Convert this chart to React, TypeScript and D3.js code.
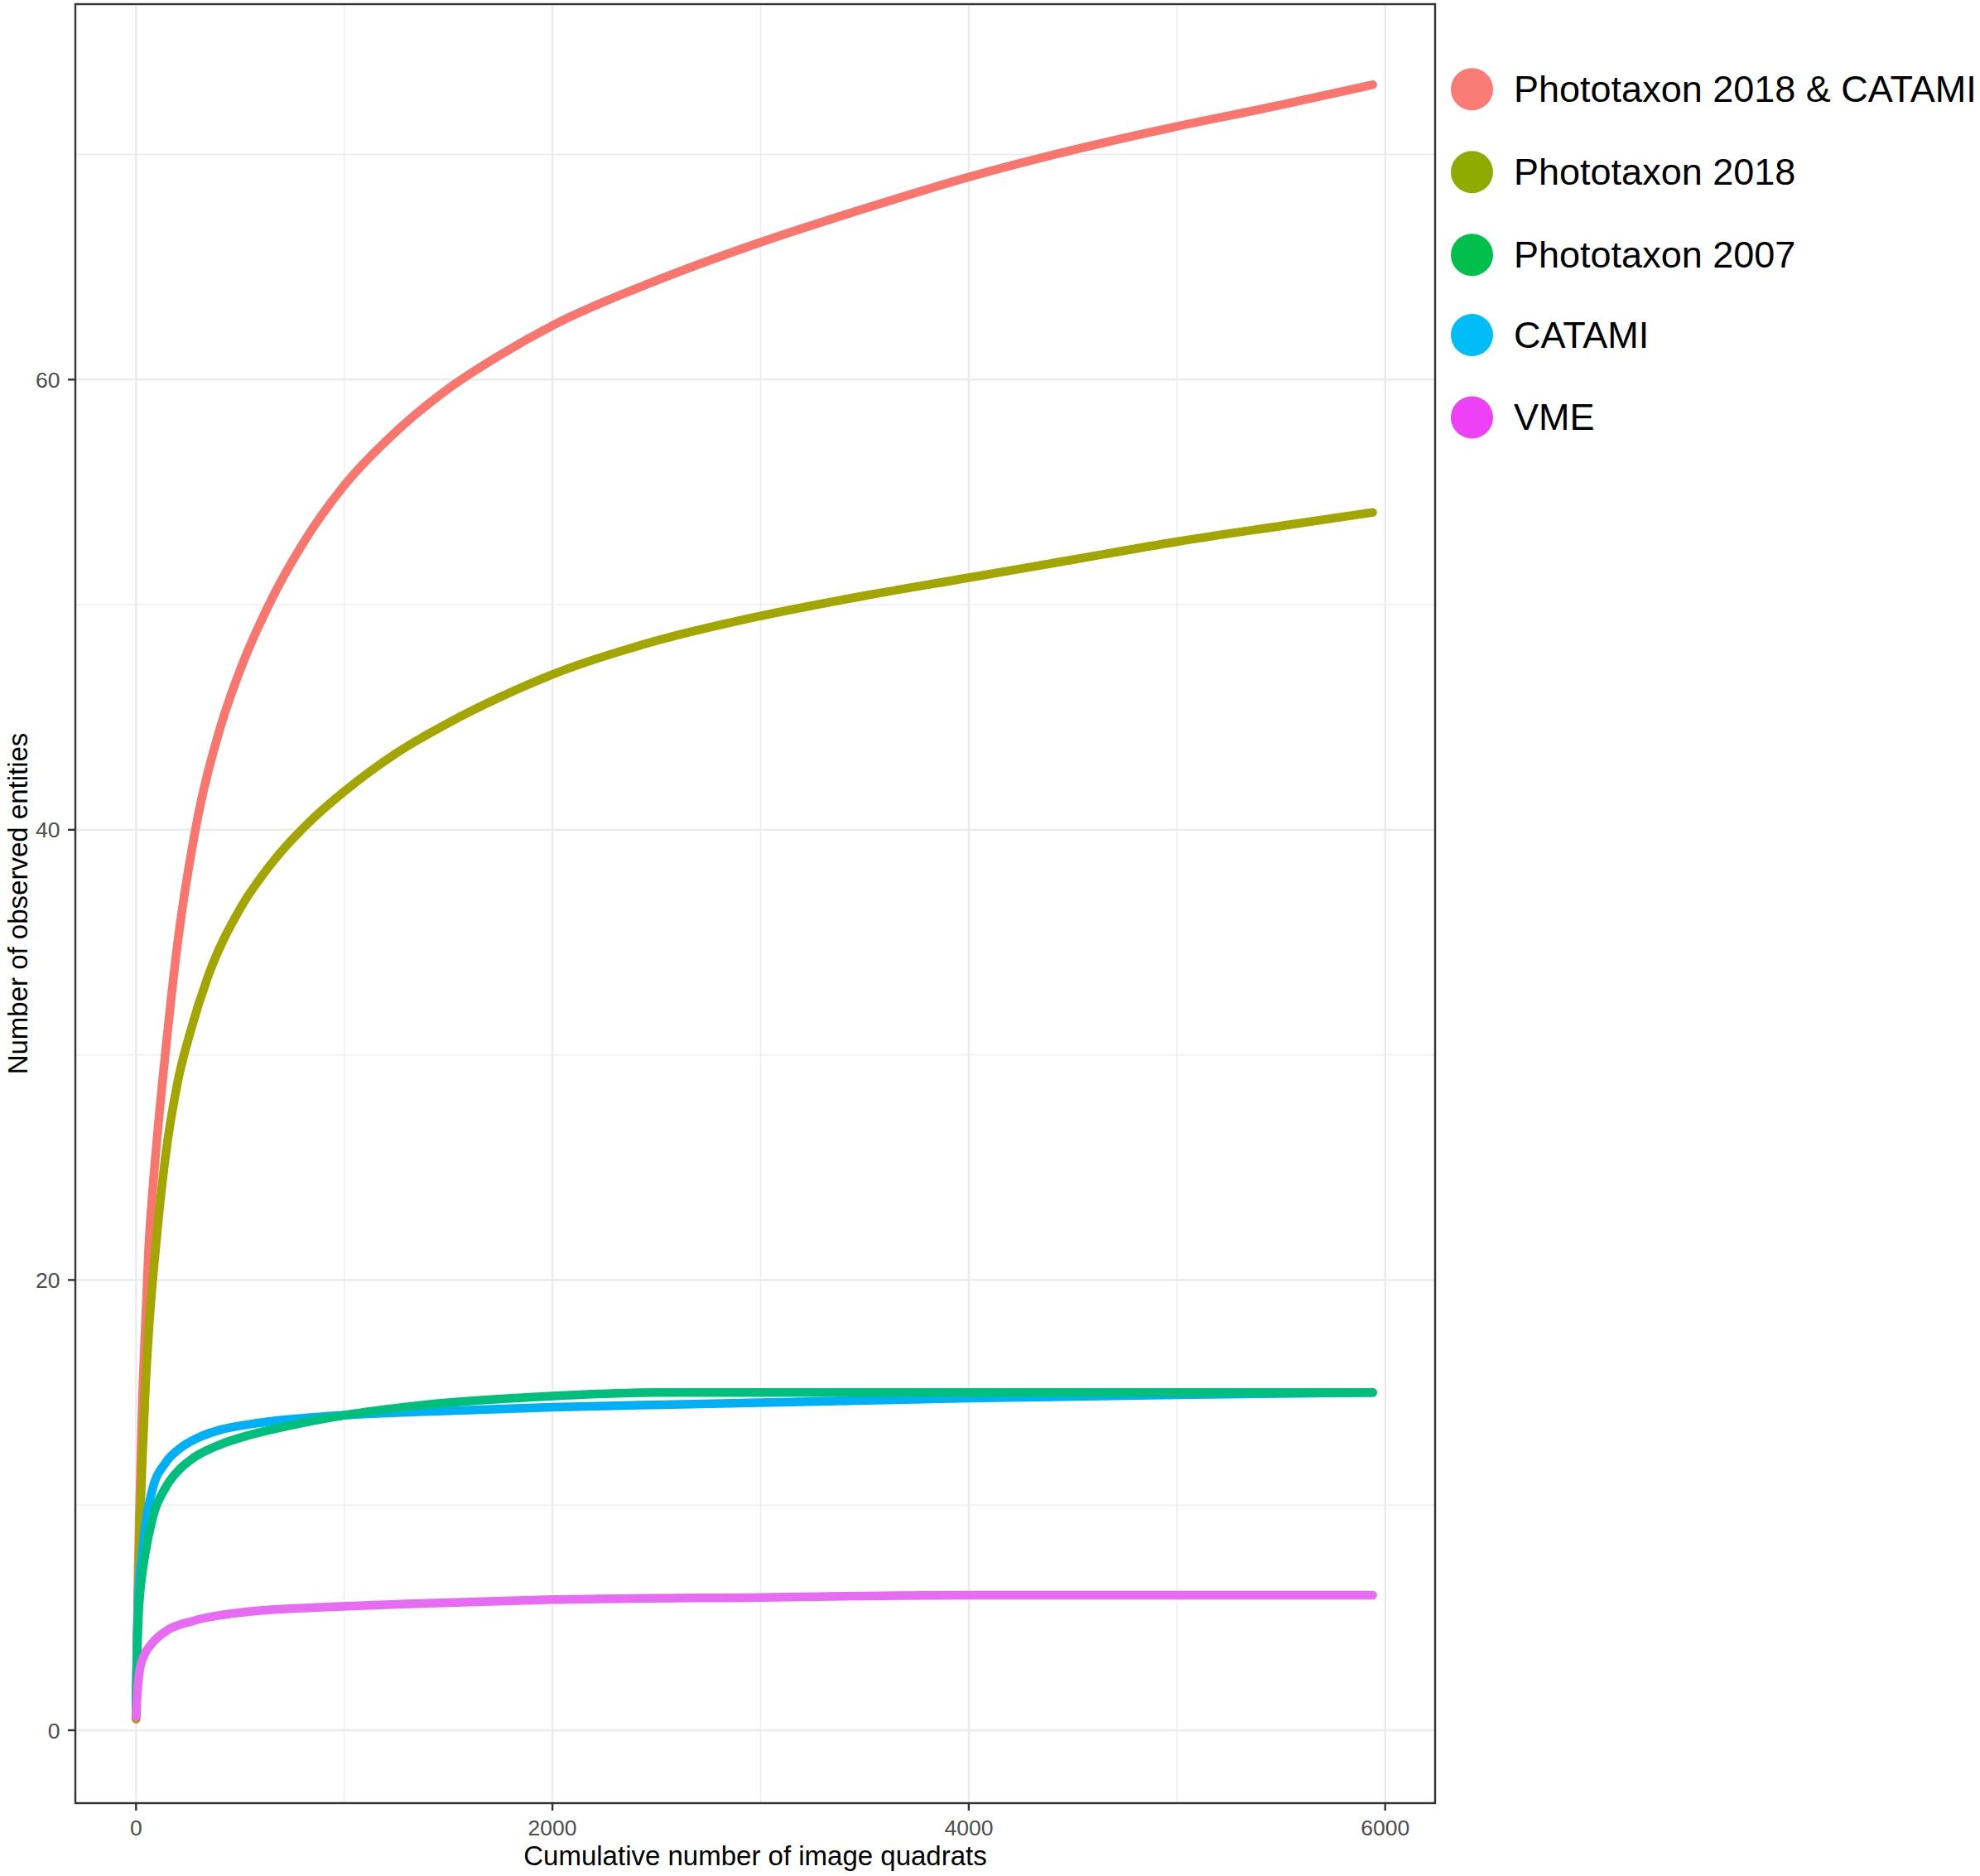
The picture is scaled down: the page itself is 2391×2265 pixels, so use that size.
import React from "react";
import * as d3 from "d3";

const seriesNames = ["Phototaxon 2018 & CATAMI", "Phototaxon 2018", "Phototaxon 2007", "CATAMI", "VME"];
const lineColors = ["#F8766D", "#A3A500", "#00BF7D", "#00B0F6", "#E76BF3"];
const legendColors = ["#FA7C75", "#8FAA00", "#00C04B", "#00BDF8", "#EE40F5"];

const redX = [0, 5, 10, 20, 30, 45, 60, 80, 100, 140, 200, 285, 400, 500, 638, 800, 1000, 1250, 1500, 1750, 2000, 2500, 3000, 3500, 4000, 4500, 5000, 5500, 5940];
const redY = [0.5, 4, 7, 11, 14.5, 18, 21.3, 24, 26.2, 30, 35, 40, 44.4, 47.1, 50, 52.7, 55.3, 57.7, 59.6, 61.1, 62.4, 64.4, 66.1, 67.6, 69.0, 70.2, 71.25, 72.2, 73.1];

const oliveX = [0, 5, 10, 20, 30, 45, 60, 80, 100, 140, 200, 260, 350, 500, 650, 850, 1000, 1250, 1500, 1750, 2000, 2500, 3000, 3500, 4000, 4500, 5000, 5500, 5940];
const oliveY = [0.5, 3.5, 6, 9.5, 12, 15.2, 17.6, 20, 22, 25.4, 28.8, 31, 33.6, 36.5, 38.5, 40.5, 41.7, 43.4, 44.75, 45.9, 46.9, 48.4, 49.5, 50.4, 51.2, 52.0, 52.8, 53.5, 54.1];

const greenX = [0, 4, 10, 20, 30, 43, 76, 143, 210, 276, 407, 540, 672, 1004, 1335, 1500, 2000, 2500, 3000, 4000, 5000, 5940];
const greenY = [1, 3, 4.8, 6.2, 7.0, 7.8, 9.3, 10.8, 11.6, 12.1, 12.7, 13.1, 13.4, 14.0, 14.4, 14.55, 14.85, 15.0, 15.0, 15.0, 15.0, 15.0];

const blueX = [0, 4, 10, 20, 29, 43, 76, 143, 208, 300, 407, 550, 672, 1004, 1335, 2000, 3000, 4000, 5000, 5940];
const blueY = [1, 3.5, 5.5, 7, 7.8, 9.0, 10.6, 11.9, 12.5, 13.0, 13.35, 13.6, 13.75, 14.0, 14.14, 14.35, 14.55, 14.75, 14.9, 15.0];

const vmeX = [0, 4, 10, 20, 40, 76, 143, 276, 541, 939, 1335, 2000, 3000, 4000, 5000, 5940];
const vmeY = [0.6, 1.3, 2.1, 2.8, 3.35, 3.85, 4.4, 4.86, 5.27, 5.48, 5.62, 5.8, 5.9, 6.0, 6.0, 6.0];

const xTicks = [0, 2000, 4000, 6000];
const xMinor = [1000, 3000, 5000];
const yTicks = [0, 20, 40, 60];
const yMinor = [10, 30, 50, 70];

const W = 2391;
const H = 2265;
const panel = { left: 91, top: 5, right: 1733, bottom: 2177 };
const font = "'Liberation Sans', Arial, sans-serif";

export default function App() {
  const x = d3.scaleLinear().domain([0, 6000]).range([164.3, 1672.7]);
  const y = d3.scaleLinear().domain([0, 60]).range([2089, 458.3]);

  const series = [
    { xs: redX, ys: redY, color: lineColors[0] },
    { xs: oliveX, ys: oliveY, color: lineColors[1] },
    { xs: blueX, ys: blueY, color: lineColors[3] },
    { xs: greenX, ys: greenY, color: lineColors[2] },
    { xs: vmeX, ys: vmeY, color: lineColors[4] },
  ];

  const line = d3
    .line<[number, number]>()
    .x((d) => x(d[0]))
    .y((d) => y(d[1]))
    .curve(d3.curveMonotoneX);

  const legendY = [107.7, 207.7, 307.7, 404.5, 504];

  return (
    <svg width={W} height={H} style={{ position: "absolute", left: 0, top: 0, background: "#fff" }} fontFamily={font}>
      <defs>
        <clipPath id="panelClip">
          <rect x={panel.left} y={panel.top} width={panel.right - panel.left} height={panel.bottom - panel.top} />
        </clipPath>
      </defs>
      <rect x={0} y={0} width={W} height={H} fill="#fff" />
      <g stroke="#EBEBEB">
        {yMinor.map((v) => (
          <line key={"ym" + v} x1={panel.left} x2={panel.right} y1={y(v)} y2={y(v)} strokeWidth={1.3} />
        ))}
        {xMinor.map((v) => (
          <line key={"xm" + v} x1={x(v)} x2={x(v)} y1={panel.top} y2={panel.bottom} strokeWidth={1.3} />
        ))}
        {yTicks.map((v) => (
          <line key={"yM" + v} x1={panel.left} x2={panel.right} y1={y(v)} y2={y(v)} strokeWidth={2.4} />
        ))}
        {xTicks.map((v) => (
          <line key={"xM" + v} x1={x(v)} x2={x(v)} y1={panel.top} y2={panel.bottom} strokeWidth={2.4} />
        ))}
      </g>
      <g clipPath="url(#panelClip)">
        {series.map((s, i) => (
          <path
            key={i}
            d={line(s.xs.map((v, j) => [v, s.ys[j]] as [number, number])) || ""}
            fill="none"
            stroke={s.color}
            strokeWidth={10.5}
            strokeLinecap="round"
            strokeLinejoin="round"
          />
        ))}
      </g>
      <rect
        x={panel.left}
        y={panel.top}
        width={panel.right - panel.left}
        height={panel.bottom - panel.top}
        fill="none"
        stroke="#333333"
        strokeWidth={2.4}
      />
      <g stroke="#333333" strokeWidth={2.4}>
        {yTicks.map((v) => (
          <line key={"yt" + v} x1={panel.left - 9} x2={panel.left} y1={y(v)} y2={y(v)} />
        ))}
        {xTicks.map((v) => (
          <line key={"xt" + v} x1={x(v)} x2={x(v)} y1={panel.bottom} y2={panel.bottom + 9} />
        ))}
      </g>
      <g fill="#4D4D4D" fontSize={26.5}>
        {yTicks.map((v) => (
          <text key={"yl" + v} x={72.5} y={y(v)} dy="0.36em" textAnchor="end">
            {v}
          </text>
        ))}
        {xTicks.map((v) => (
          <text key={"xl" + v} x={x(v)} y={2216} textAnchor="middle">
            {v}
          </text>
        ))}
      </g>
      <text x={(panel.left + panel.right) / 2} y={2252} textAnchor="middle" fontSize={33} fill="#000">
        Cumulative number of image quadrats
      </text>
      <text
        transform={`translate(33, ${(panel.top + panel.bottom) / 2}) rotate(-90)`}
        textAnchor="middle"
        fontSize={33}
        fill="#000"
      >
        Number of observed entities
      </text>
      <g>
        {seriesNames.map((name, i) => (
          <g key={name}>
            <circle cx={1777.5} cy={legendY[i]} r={25.5} fill={legendColors[i]} />
            <text x={1828} y={legendY[i] + 15} fontSize={45} fill="#000">
              {name}
            </text>
          </g>
        ))}
      </g>
    </svg>
  );
}
